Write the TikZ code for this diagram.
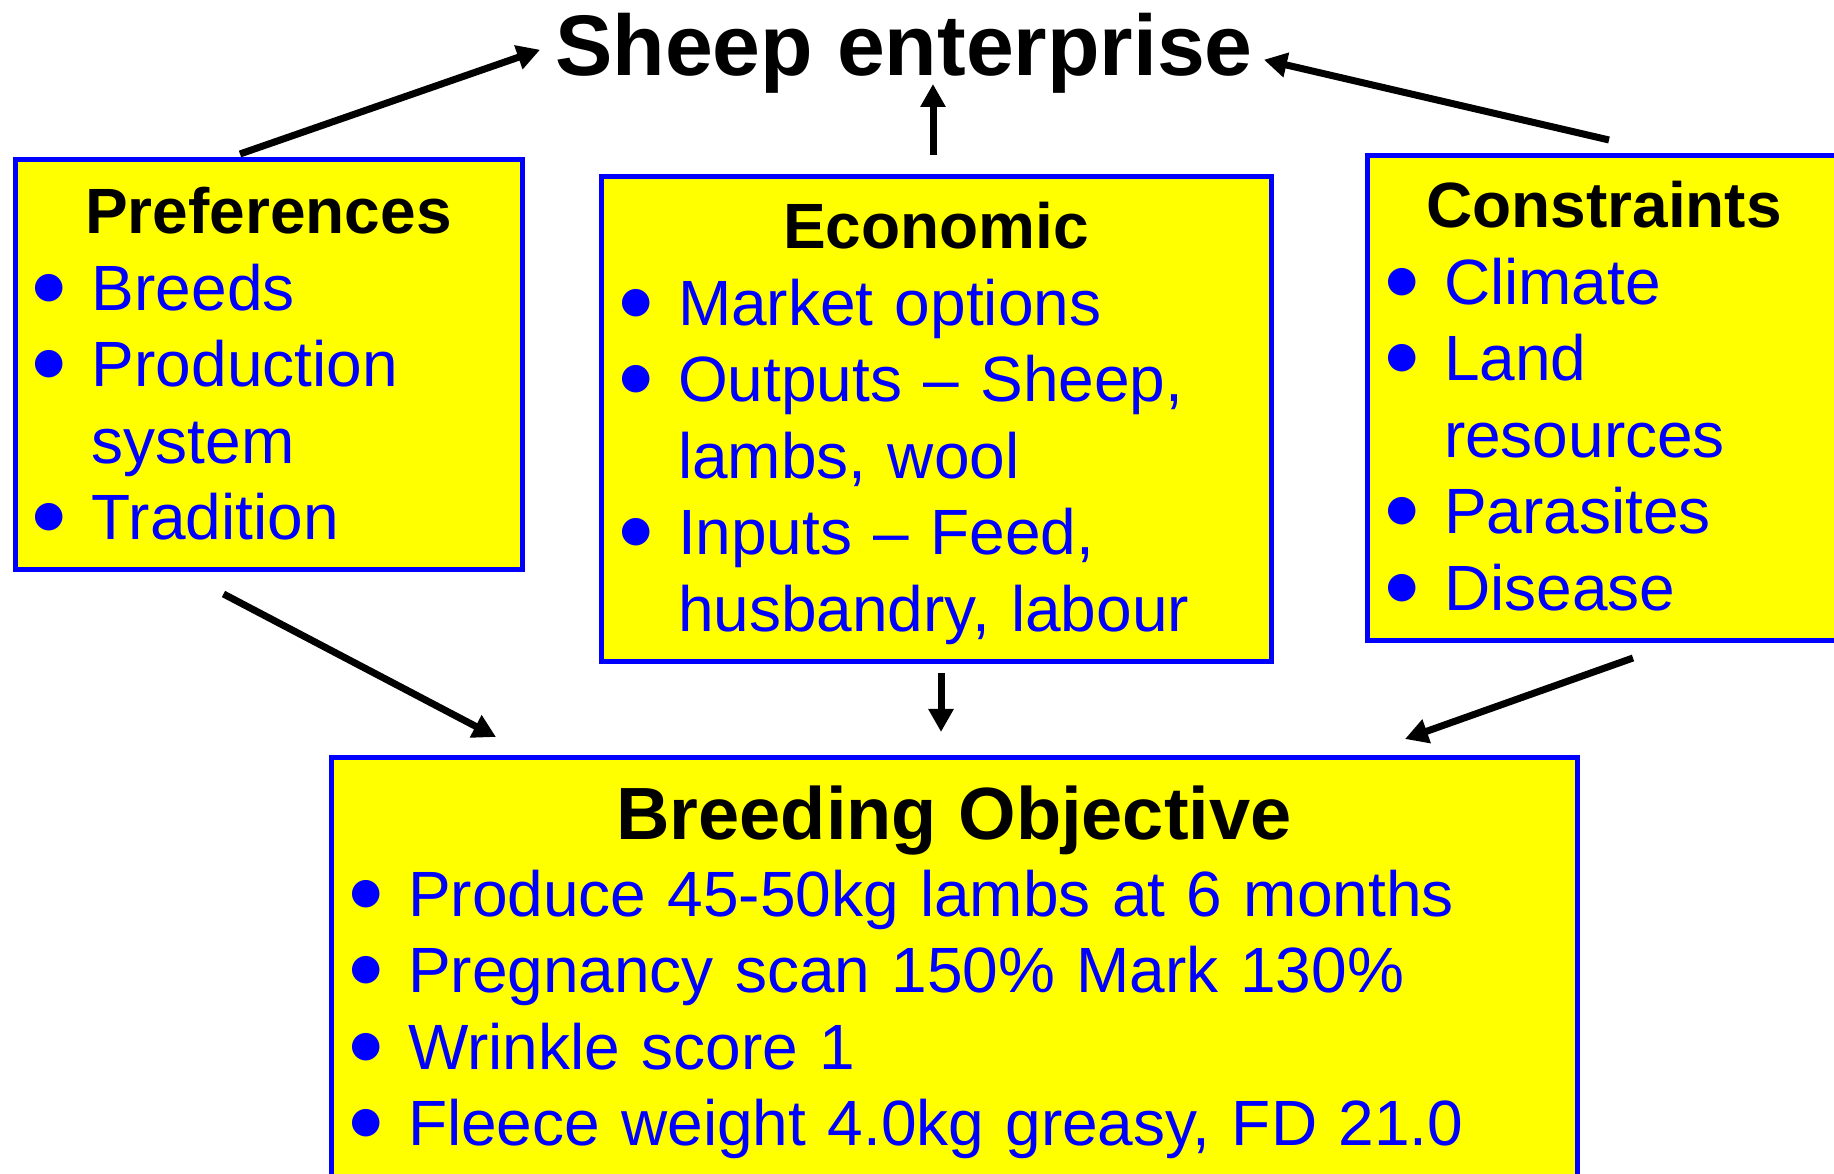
\documentclass[tikz,border=0pt]{standalone}
\usepackage{fontspec}
\setmainfont{Liberation Sans}
\newfontfamily\dotfont{DejaVu Sans}
\usetikzlibrary{arrows.meta}
\definecolor{boxblue}{RGB}{0,0,255}
\definecolor{boxyellow}{RGB}{255,255,0}
\newcommand{\headline}[1]{{\centering\leavevmode\color{black}\bfseries #1\par}}
\newcommand{\bigdot}{\raisebox{13pt}{\dotfont\fontsize{36pt}{0pt}\selectfont ●}}
\newcommand{\itm}[1]{\par\hangindent=58pt\hangafter=1\noindent\makebox[58pt][l]{\bigdot}#1}
\begin{document}
\begin{tikzpicture}[x=1pt,y=1pt,
    box/.style={draw=boxblue,line width=5pt,fill=boxyellow,text=boxblue,inner xsep=19pt,inner ysep=0pt,outer sep=0pt,anchor=base,font=\fontsize{64pt}{76.5pt}\selectfont},
    link/.style={-{Triangle[width=24pt,length=23pt]},line width=7pt}]
  \useasboundingbox (0,0) rectangle (1834,1174);
  \clip (0,0) rectangle (1834,1174);
  \node[inner sep=0pt,outer sep=0pt,anchor=base,font=\fontsize{86pt}{100pt}\selectfont\bfseries] (sheep) at (904,1098) {Sheep enterprise};
  \node[box,text width=469pt,text height=74pt,text depth=336pt] (pref) at (268.5,940)
    {\headline{Preferences}\itm{Breeds}\itm{Production\newline system}\itm{Tradition}\par};
  \node[box,text width=632pt,text height=72pt,text depth=413pt] (econ) at (936,925)
    {\headline{Economic}\itm{Market options}\itm{Outputs \textendash\ Sheep,\newline lambs, wool}\itm{Inputs \textendash\ Feed,\newline husbandry, labour}\par};
  \node[box,text width=436pt,text height=72pt,text depth=413pt] (constr) at (1604,946)
    {\headline{Constraints}\itm{Climate}\itm{Land\newline resources}\itm{Parasites}\itm{Disease}\par};
  \node[box,text width=1208pt,text height=82pt,text depth=360pt] (bo) at (954,334)
    {\headline{\fontsize{74pt}{80pt}\selectfont Breeding Objective}\itm{Produce 45-50kg lambs at 6 months}\itm{Pregnancy scan 150\% Mark 130\%}\itm{Wrinkle score 1}\itm{Fleece weight 4.0kg greasy, FD 21.0}\par};
  % arrows up to the enterprise
  \draw[link] ([shift={(-28.5,6)}]pref.north) -- ([shift={(-15,4)}]sheep.west);
  \draw[link] ([shift={(-3,22)}]econ.north) -- ([shift={(29,-8)}]sheep.base);
  \draw[link] ([shift={(5,16)}]constr.north) -- ([shift={(11,-6)}]sheep.east);
  % arrows down to the objective
  \draw[link] ([shift={(-45,-24)}]pref.south) -- ([shift={(165,21)}]bo.north west);
  \draw[link] ([shift={(5,-11)}]econ.south) -- ([shift={(-13,26)}]bo.north);
  \draw[link] ([shift={(29,-17)}]constr.south) -- ([shift={(-172,19)}]bo.north east);
\end{tikzpicture}
\end{document}
